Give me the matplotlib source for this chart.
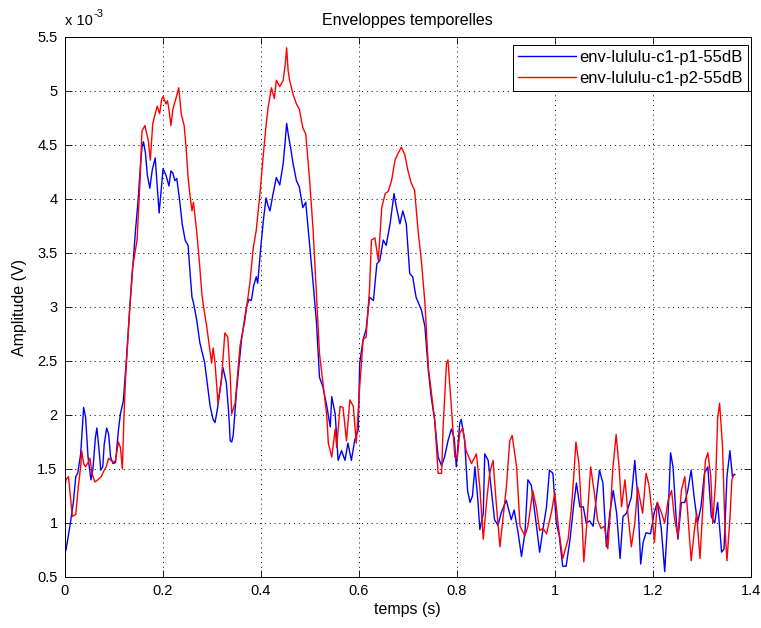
import matplotlib
matplotlib.use("Agg")
import matplotlib.pyplot as plt

plt.rcParams['font.family'] = ['Liberation Sans', 'DejaVu Sans']

# ---- data (amplitude in units of 1e-3 V) ----
t_p1 = [0.000, 0.003, 0.011, 0.018, 0.023, 0.027, 0.033, 0.037, 0.039, 0.043,
        0.048, 0.054, 0.058, 0.063, 0.066, 0.070, 0.074, 0.078, 0.081, 0.086,
        0.090, 0.094, 0.099, 0.104, 0.110, 0.114, 0.120, 0.123, 0.126, 0.133,
        0.139, 0.145, 0.150, 0.155, 0.158, 0.161, 0.165, 0.169, 0.174, 0.179,
        0.185, 0.189, 0.193, 0.197, 0.201, 0.207, 0.213, 0.217, 0.221, 0.225,
        0.229, 0.235, 0.240, 0.246, 0.252, 0.256, 0.260, 0.263, 0.270, 0.276,
        0.286, 0.292, 0.297, 0.303, 0.307, 0.312, 0.318, 0.323, 0.327, 0.330,
        0.335, 0.338, 0.341, 0.344, 0.351, 0.356, 0.361, 0.371, 0.376, 0.381,
        0.386, 0.391, 0.394, 0.401, 0.406, 0.411, 0.415, 0.419, 0.425, 0.432,
        0.439, 0.446, 0.450, 0.453, 0.457, 0.462, 0.466, 0.473, 0.479, 0.486,
        0.492, 0.500, 0.507, 0.514, 0.520, 0.527, 0.535, 0.542, 0.545, 0.552,
        0.558, 0.565, 0.572, 0.578, 0.585, 0.592, 0.599, 0.602, 0.609, 0.615,
        0.622, 0.630, 0.637, 0.643, 0.650, 0.656, 0.664, 0.670, 0.672, 0.677,
        0.684, 0.690, 0.697, 0.704, 0.710, 0.717, 0.728, 0.735, 0.742, 0.748,
        0.755, 0.762, 0.769, 0.775, 0.782, 0.789, 0.795, 0.799, 0.806, 0.809,
        0.816, 0.822, 0.827, 0.832, 0.837, 0.843, 0.847, 0.854, 0.857, 0.864,
        0.871, 0.877, 0.884, 0.891, 0.901, 0.911, 0.917, 0.925, 0.932, 0.939,
        0.945, 0.952, 0.959, 0.969, 0.976, 0.983, 0.989, 0.996, 1.003, 1.009,
        1.016, 1.023, 1.031, 1.038, 1.044, 1.051, 1.058, 1.064, 1.071, 1.078,
        1.084, 1.091, 1.098, 1.105, 1.112, 1.119, 1.126, 1.133, 1.139, 1.146,
        1.156, 1.163, 1.169, 1.175, 1.180, 1.186, 1.195, 1.203, 1.209, 1.217,
        1.224, 1.231, 1.236, 1.241, 1.248, 1.251, 1.258, 1.265, 1.271, 1.278,
        1.284, 1.291, 1.298, 1.305, 1.312, 1.319, 1.326, 1.332, 1.340, 1.345,
        1.351, 1.357, 1.362, 1.367]
env_p1 = [0.72, 0.75, 0.97, 1.19, 1.43, 1.46, 1.64, 1.92, 2.07, 1.98,
          1.61, 1.40, 1.50, 1.79, 1.88, 1.70, 1.49, 1.52, 1.73, 1.88,
          1.82, 1.61, 1.55, 1.56, 1.86, 2.01, 2.13, 2.31, 2.50, 2.98,
          3.36, 3.72, 3.98, 4.32, 4.48, 4.53, 4.43, 4.22, 4.10, 4.27,
          4.38, 4.12, 3.87, 4.07, 4.28, 4.22, 4.12, 4.26, 4.24, 4.17,
          4.19, 3.98, 3.77, 3.62, 3.57, 3.32, 3.09, 3.04, 2.87, 2.67,
          2.48, 2.26, 2.08, 1.96, 1.93, 2.06, 2.26, 2.44, 2.36, 2.30,
          2.01, 1.76, 1.75, 1.81, 2.23, 2.46, 2.70, 3.00, 3.07, 3.06,
          3.20, 3.28, 3.22, 3.59, 3.82, 4.01, 3.94, 3.89, 4.04, 4.20,
          4.13, 4.33, 4.53, 4.70, 4.58, 4.45, 4.33, 4.17, 4.11, 3.92,
          3.97, 3.57, 3.22, 2.85, 2.35, 2.26, 2.08, 1.89, 2.17, 2.01,
          1.58, 1.67, 1.58, 1.74, 1.58, 1.77, 1.86, 2.48, 2.70, 2.79,
          3.09, 3.06, 3.40, 3.43, 3.62, 3.57, 3.77, 3.98, 4.05, 3.92,
          3.77, 3.89, 3.77, 3.31, 3.28, 3.09, 2.97, 2.82, 2.41, 2.16,
          1.95, 1.61, 1.53, 1.61, 1.76, 1.87, 1.78, 1.52, 1.92, 1.96,
          1.77, 1.30, 1.19, 1.25, 1.52, 1.21, 0.94, 1.09, 1.64, 1.58,
          1.28, 1.03, 0.98, 1.10, 1.21, 1.03, 1.12, 0.91, 0.69, 0.91,
          1.40, 1.35, 1.10, 0.73, 0.95, 1.15, 1.49, 1.46, 1.00, 0.88,
          0.60, 0.60, 0.85, 1.15, 1.37, 1.15, 1.15, 1.00, 1.02, 0.97,
          1.21, 1.49, 1.37, 0.78, 1.09, 1.30, 1.09, 0.67, 1.06, 1.09,
          1.24, 1.58, 1.24, 0.62, 0.82, 0.91, 0.90, 1.10, 1.19, 0.95,
          0.55, 1.09, 1.65, 1.52, 1.00, 0.85, 1.19, 1.19, 1.30, 1.49,
          1.24, 1.00, 1.15, 1.46, 1.52, 1.06, 1.00, 1.19, 0.73, 0.76,
          1.43, 1.67, 1.43, 1.45]

t_p2 = [0.000, 0.003, 0.008, 0.012, 0.016, 0.023, 0.028, 0.033, 0.035, 0.039,
        0.043, 0.048, 0.052, 0.056, 0.062, 0.068, 0.075, 0.080, 0.085, 0.090,
        0.095, 0.100, 0.104, 0.110, 0.114, 0.118, 0.121, 0.124, 0.128, 0.133,
        0.139, 0.148, 0.154, 0.158, 0.164, 0.171, 0.175, 0.180, 0.185, 0.189,
        0.194, 0.198, 0.201, 0.207, 0.210, 0.213, 0.217, 0.221, 0.226, 0.230,
        0.233, 0.238, 0.244, 0.248, 0.252, 0.256, 0.260, 0.263, 0.270, 0.275,
        0.280, 0.283, 0.290, 0.300, 0.303, 0.307, 0.313, 0.320, 0.327, 0.333,
        0.338, 0.341, 0.348, 0.358, 0.368, 0.378, 0.385, 0.391, 0.398, 0.405,
        0.410, 0.415, 0.422, 0.428, 0.432, 0.439, 0.446, 0.450, 0.453, 0.456,
        0.459, 0.466, 0.473, 0.479, 0.486, 0.492, 0.500, 0.507, 0.514, 0.520,
        0.527, 0.535, 0.538, 0.545, 0.552, 0.555, 0.562, 0.568, 0.575, 0.582,
        0.589, 0.595, 0.602, 0.609, 0.615, 0.622, 0.626, 0.633, 0.640, 0.647,
        0.654, 0.660, 0.667, 0.674, 0.680, 0.687, 0.694, 0.700, 0.707, 0.714,
        0.721, 0.728, 0.735, 0.742, 0.748, 0.755, 0.762, 0.769, 0.772, 0.779,
        0.782, 0.789, 0.796, 0.801, 0.806, 0.812, 0.819, 0.830, 0.840, 0.847,
        0.854, 0.861, 0.867, 0.874, 0.880, 0.888, 0.894, 0.901, 0.908, 0.913,
        0.922, 0.929, 0.939, 0.945, 0.955, 0.962, 0.969, 0.976, 0.983, 0.993,
        1.000, 1.007, 1.016, 1.027, 1.034, 1.038, 1.043, 1.049, 1.056, 1.059,
        1.066, 1.073, 1.080, 1.087, 1.094, 1.101, 1.108, 1.113, 1.118, 1.125,
        1.131, 1.136, 1.143, 1.150, 1.156, 1.163, 1.169, 1.179, 1.186, 1.192,
        1.198, 1.203, 1.209, 1.217, 1.224, 1.231, 1.238, 1.244, 1.251, 1.258,
        1.265, 1.271, 1.278, 1.284, 1.289, 1.296, 1.301, 1.307, 1.312, 1.318,
        1.322, 1.328, 1.332, 1.336, 1.342, 1.347, 1.351, 1.357, 1.361, 1.365]
env_p2 = [1.30, 1.40, 1.43, 1.24, 1.06, 1.08, 1.33, 1.52, 1.67, 1.55,
          1.52, 1.56, 1.60, 1.46, 1.38, 1.40, 1.43, 1.48, 1.52, 1.60,
          1.58, 1.56, 1.58, 1.75, 1.70, 1.50, 1.95, 2.30, 2.61, 2.99,
          3.37, 3.62, 4.17, 4.63, 4.68, 4.54, 4.36, 4.70, 4.79, 4.86,
          4.79, 4.92, 4.95, 4.88, 4.91, 4.83, 4.68, 4.83, 4.91, 4.98,
          5.03, 4.79, 4.68, 4.48, 4.20, 4.03, 3.89, 3.97, 3.68, 3.42,
          3.13, 3.02, 2.82, 2.48, 2.62, 2.48, 2.11, 2.32, 2.76, 2.72,
          2.36, 2.01, 2.11, 2.64, 2.88, 3.22, 3.55, 3.71, 4.02, 4.39,
          4.63, 4.84, 5.03, 4.93, 5.10, 5.04, 5.10, 5.24, 5.40, 5.19,
          5.10, 4.97, 4.88, 4.83, 4.66, 4.60, 4.17, 3.71, 3.09, 2.57,
          2.30, 1.99, 1.74, 1.61, 1.87, 1.70, 2.08, 2.07, 1.76, 2.14,
          2.08, 1.74, 2.26, 2.70, 2.72, 3.16, 3.62, 3.64, 3.43, 3.92,
          4.05, 4.07, 4.17, 4.36, 4.42, 4.48, 4.41, 4.27, 4.15, 4.08,
          3.71, 3.42, 3.04, 2.44, 2.21, 1.95, 1.46, 1.46, 1.88, 2.48,
          2.51, 2.07, 1.61, 1.60, 1.83, 1.88, 1.67, 1.55, 1.64, 1.33,
          0.85, 1.21, 1.46, 1.58, 1.21, 0.78, 1.03, 1.33, 1.76, 1.81,
          1.52, 0.97, 0.88, 0.97, 1.30, 1.15, 0.93, 0.95, 0.90, 1.10,
          1.28, 0.97, 0.67, 0.85, 1.15, 1.40, 1.75, 1.55, 0.97, 0.64,
          1.04, 1.52, 1.30, 1.03, 0.95, 0.97, 0.76, 1.09, 1.49, 1.82,
          1.52, 1.15, 1.40, 1.04, 0.78, 1.00, 1.33, 1.09, 1.46, 1.35,
          1.10, 0.82, 1.19, 1.10, 1.00, 1.21, 1.30, 1.04, 0.88, 1.30,
          1.43, 1.09, 0.65, 0.91, 1.09, 0.67, 1.09, 1.58, 1.65, 1.43,
          1.00, 1.40, 1.97, 2.11, 1.70, 0.94, 0.65, 1.04, 1.40, 1.45]

labels = ['env-lululu-c1-p1-55dB', 'env-lululu-c1-p2-55dB']
x_ticks = [0, 0.2, 0.4, 0.6, 0.8, 1.0, 1.2, 1.4]
x_ticklabels = ['0', '0.2', '0.4', '0.6', '0.8', '1', '1.2', '1.4']
y_ticks = [0.5, 1, 1.5, 2, 2.5, 3, 3.5, 4, 4.5, 5, 5.5]
y_ticklabels = ['0.5', '1', '1.5', '2', '2.5', '3', '3.5', '4', '4.5', '5', '5.5']

W, H = 761, 628
L, R, T, B = 64.5, 751, 37, 577
fig = plt.figure(figsize=(W / 100, H / 100), dpi=100, facecolor='white')
ax = fig.add_axes([L / W, 1 - B / H, (R - L) / W, (B - T) / H])

ax.plot(t_p1, env_p1, color=(0, 0, 1), lw=1.0, label=labels[0])
ax.plot(t_p2, env_p2, color=(1, 0, 0), lw=1.0, label=labels[1])

ax.set_xlim(0, 1.4)
ax.set_ylim(0.5, 5.5)
ax.set_xticks(x_ticks)
ax.set_xticklabels(x_ticklabels)
ax.set_yticks(y_ticks)
ax.set_yticklabels(y_ticklabels)
ax.tick_params(direction='in', length=5, width=0.6, top=True, right=True,
               labelsize=10.5, pad=5, colors='black')
ax.grid(True, linestyle=(0, (1, 4)), color='black', lw=0.7)
for s in ax.spines.values():
    s.set_linewidth(0.7)
    s.set_color('black')

ax.set_title('Enveloppes temporelles', fontsize=11.5, pad=9)
ax.set_xlabel('temps (s)', fontsize=11.5, labelpad=3)
ax.set_ylabel('Amplitude (V)', fontsize=11.5, labelpad=7)

fig.text(65 / W, 1 - 25 / H, 'x 10', fontsize=10.5, ha='left', va='baseline')
fig.text(93 / W, 1 - 17 / H, '-3', fontsize=8, ha='left', va='baseline')

leg = ax.legend(loc='upper right', bbox_to_anchor=(748 / W, 1 - 45 / H),
                bbox_transform=fig.transFigure, borderaxespad=0,
                fontsize=12, handlelength=3.5, fancybox=False,
                edgecolor='black', framealpha=1, borderpad=0.3,
                labelspacing=0.35, handletextpad=0.2)
leg.get_frame().set_linewidth(0.7)

fig.savefig('out.png', dpi=100, facecolor='white')
